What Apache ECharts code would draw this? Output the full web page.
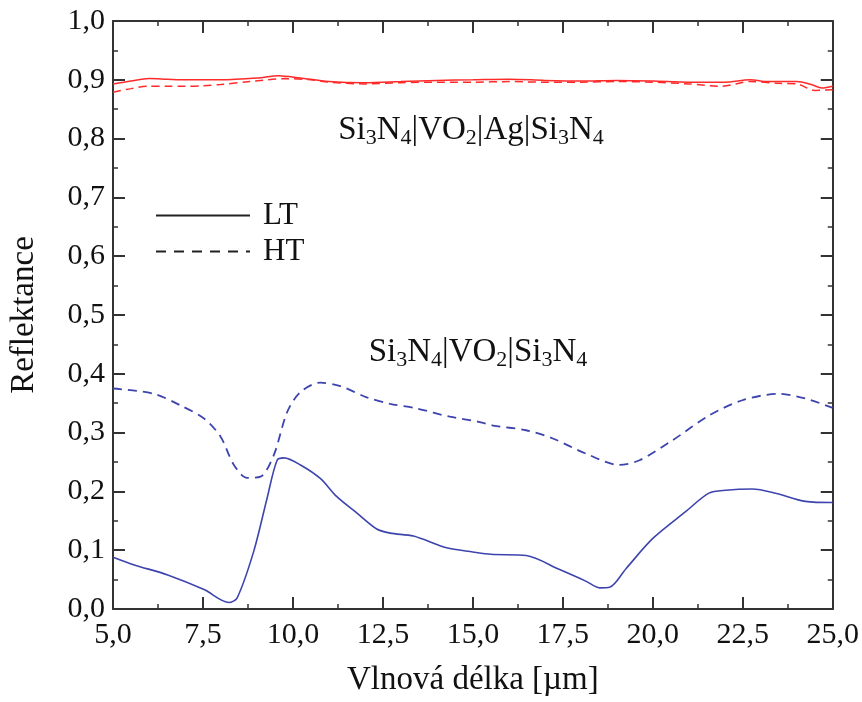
<!DOCTYPE html>
<html>
<head>
<meta charset="utf-8">
<script src="https://cdn.jsdelivr.net/npm/echarts@6/dist/echarts.min.js"></script>
<style>html,body{margin:0;padding:0;background:#fff}#c{width:862px;height:702px}</style>
</head>
<body>
<div id="c"></div>
<script>
// Wavelength [µm] and reflectance values
var blueLTx = [5.0, 5.59, 6.52, 7.53, 8.22, 8.45, 8.91, 9.28, 9.56, 9.75, 10.21, 10.76, 11.22, 11.78, 12.33, 12.70, 13.35, 14.27, 15.0, 15.5, 16.48, 17.41, 18.15, 18.52, 18.80, 19.26, 20.0, 20.92, 21.56, 22.03, 22.76, 23.41, 24.24, 25.0];
var blueLTy = [0.088, 0.075, 0.058, 0.033, 0.011, 0.019, 0.098, 0.188, 0.253, 0.257, 0.245, 0.222, 0.191, 0.163, 0.136, 0.129, 0.124, 0.104, 0.097, 0.093, 0.091, 0.067, 0.047, 0.036, 0.037, 0.069, 0.120, 0.166, 0.197, 0.202, 0.204, 0.197, 0.183, 0.181];

var blueHTx = [5.0, 6.14, 6.88, 7.53, 7.99, 8.36, 8.73, 9.10, 9.47, 9.84, 10.21, 10.76, 11.32, 12.05, 12.70, 13.44, 14.36, 15.19, 15.56, 16.48, 17.22, 18.15, 19.07, 19.63, 20.55, 21.56, 22.49, 23.50, 24.24, 25.0];
var blueHTy = [0.375, 0.366, 0.346, 0.324, 0.293, 0.245, 0.223, 0.225, 0.262, 0.335, 0.369, 0.385, 0.379, 0.360, 0.349, 0.341, 0.327, 0.318, 0.312, 0.304, 0.290, 0.264, 0.245, 0.253, 0.287, 0.329, 0.355, 0.366, 0.358, 0.342];

var redLTx = [5.0, 5.5, 6.0, 6.5, 7.0, 8.0, 9.0, 9.6, 10.2, 11.0, 12.0, 13.0, 14.0, 15.0, 16.0, 17.0, 18.0, 19.0, 20.0, 21.0, 22.0, 22.7, 23.2, 24.0, 24.4, 24.7, 25.0];
var redLTy = [0.893, 0.898, 0.902, 0.901, 0.900, 0.900, 0.903, 0.907, 0.903, 0.897, 0.895, 0.897, 0.899, 0.900, 0.901, 0.899, 0.898, 0.899, 0.898, 0.896, 0.896, 0.900, 0.897, 0.897, 0.892, 0.886, 0.889];

var redHTx = [5.0, 5.5, 6.0, 6.5, 7.0, 7.5, 8.0, 8.8, 9.8, 10.5, 11.0, 12.0, 13.0, 14.0, 15.0, 16.0, 17.0, 18.0, 19.0, 20.0, 21.0, 21.9, 22.7, 23.5, 24.0, 24.5, 25.0];
var redHTy = [0.879, 0.885, 0.889, 0.889, 0.889, 0.890, 0.892, 0.897, 0.902, 0.900, 0.896, 0.893, 0.895, 0.896, 0.896, 0.897, 0.896, 0.896, 0.897, 0.896, 0.893, 0.889, 0.897, 0.894, 0.893, 0.882, 0.883];

var legendNames = ['LT', 'HT'];
var xAxisName = 'Vlnová délka [µm]';
var yAxisName = 'Reflektance';

function zip(xs, ys) { return xs.map(function (x, i) { return [x, ys[i]]; }); }
function fmt(v) { return v.toFixed(1).replace('.', ','); }

var FONT = 'Liberation Serif';
var RED = '#ff2a2a';
var BLUE = '#3d44ad';
var AX = '#333';

function axisCommon(showLabel) {
  return {
    axisLine: { show: true, onZero: false, lineStyle: { color: AX, width: 2 } },
    axisTick: { show: true, inside: true, length: 12, lineStyle: { color: AX, width: 2 } },
    minorTick: { show: true, splitNumber: 2, length: 5, lineStyle: { color: AX, width: 1.5 } },
    splitLine: { show: false },
    axisLabel: { show: showLabel, color: '#111', fontFamily: FONT, fontSize: 30, formatter: fmt }
  };
}

var xBase = { type: 'value', min: 5, max: 25, interval: 2.5 };
var yBase = { type: 'value', min: 0, max: 1, interval: 0.1 };

var subRich = {
  n: { fontFamily: FONT, fontSize: 33, fill: '#111', lineHeight: 40 },
  s: { fontFamily: FONT, fontSize: 22, fill: '#111', lineHeight: 40, padding: [16, 0, 0, 0] }
};

var chart = echarts.init(document.getElementById('c'));
chart.setOption({
  animation: false,
  backgroundColor: '#fff',
  grid: { left: 112, right: 28, top: 21, bottom: 91 },
  xAxis: [
    Object.assign({}, xBase, axisCommon(true), {
      position: 'bottom', name: xAxisName, nameLocation: 'middle', nameGap: 55,
      nameTextStyle: { color: '#111', fontFamily: FONT, fontSize: 33 },
      axisLabel: { show: true, color: '#111', fontFamily: FONT, fontSize: 30, margin: 11, formatter: fmt }
    }),
    Object.assign({}, xBase, axisCommon(false), { position: 'top' })
  ],
  yAxis: [
    Object.assign({}, yBase, axisCommon(true), {
      position: 'left', name: yAxisName, nameLocation: 'middle', nameGap: 72,
      nameTextStyle: { color: '#111', fontFamily: FONT, fontSize: 33 },
      axisLabel: { show: true, color: '#111', fontFamily: FONT, fontSize: 30, margin: 8, formatter: fmt }
    }),
    Object.assign({}, yBase, axisCommon(false), { position: 'right' })
  ],
  legend: {
    data: legendNames,
    orient: 'vertical',
    left: 150, top: 195,
    itemWidth: 94, itemHeight: 14, itemGap: 5,
    itemStyle: { opacity: 0 },
    textStyle: { color: '#111', fontFamily: FONT, fontSize: 31, padding: [0, 0, 0, 8] }
  },
  graphic: [
    {
      type: 'text', x: 471, y: 130,
      style: {
        text: '{n|Si}{s|3}{n|N}{s|4}{n||VO}{s|2}{n||Ag|Si}{s|3}{n|N}{s|4}',
        align: 'center', verticalAlign: 'middle', rich: subRich
      }
    },
    {
      type: 'text', x: 478, y: 352,
      style: {
        text: '{n|Si}{s|3}{n|N}{s|4}{n||VO}{s|2}{n||Si}{s|3}{n|N}{s|4}',
        align: 'center', verticalAlign: 'middle', rich: subRich
      }
    }
  ],
  series: [
    { name: 'LT', type: 'line', data: [], symbol: 'none', lineStyle: { color: '#222', width: 1.6, type: 'solid' }, itemStyle: { color: '#222' } },
    { name: 'HT', type: 'line', data: [], symbol: 'none', lineStyle: { color: '#222', width: 2.2, type: [10, 8] }, itemStyle: { color: '#222' } },
    { name: 'redLT', type: 'line', data: zip(redLTx, redLTy), symbol: 'none', smooth: 0.3, lineStyle: { color: RED, width: 1.5 } },
    { name: 'redHT', type: 'line', data: zip(redHTx, redHTy), symbol: 'none', smooth: 0.3, lineStyle: { color: RED, width: 1.5, type: [8, 5] } },
    { name: 'blueLT', type: 'line', data: zip(blueLTx, blueLTy), symbol: 'none', smooth: 0.3, lineStyle: { color: BLUE, width: 1.6 } },
    { name: 'blueHT', type: 'line', data: zip(blueHTx, blueHTy), symbol: 'none', smooth: 0.3, lineStyle: { color: BLUE, width: 1.8, type: [9, 6] } }
  ]
});
</script>
</body>
</html>
